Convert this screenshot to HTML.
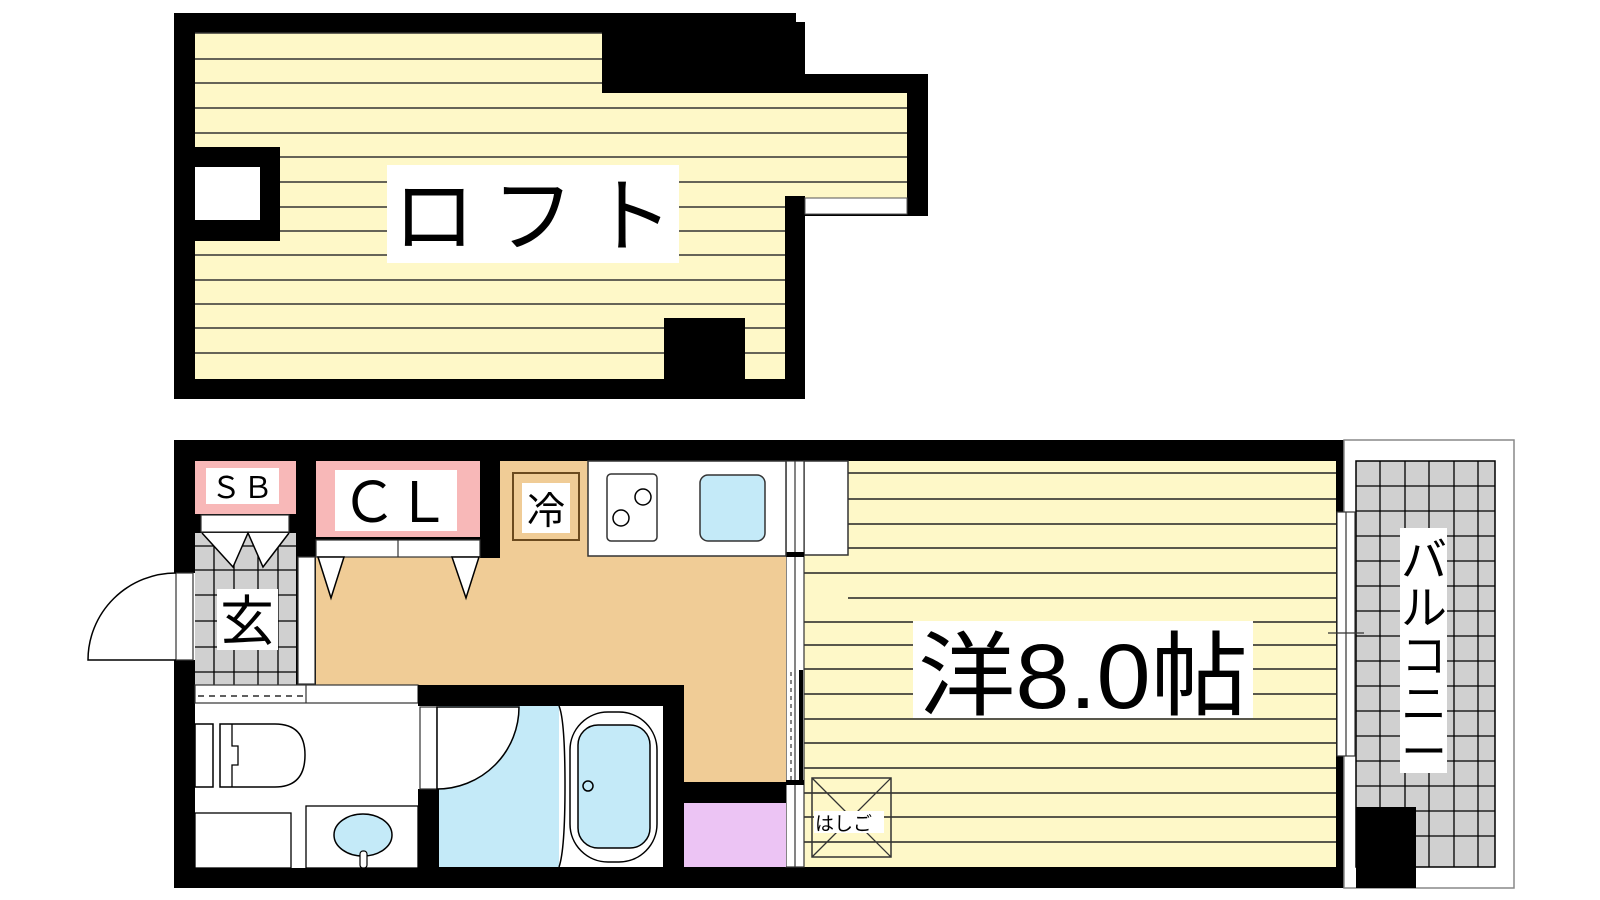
<!DOCTYPE html>
<html><head><meta charset="utf-8"><style>html,body{margin:0;padding:0;background:#fff}svg{display:block}</style></head>
<body>
<svg width="1600" height="900" viewBox="0 0 1600 900" xmlns="http://www.w3.org/2000/svg" font-family="'Liberation Sans','Noto Sans CJK JP',sans-serif">
<!-- LOFT -->
<rect x="174" y="13" width="631" height="386" fill="#000"/>
<rect x="805" y="74" width="123" height="142" fill="#000"/>
<rect x="796" y="13" width="9" height="9" fill="#fff"/>
<rect x="195" y="33" width="590" height="346" fill="#fef8c8"/>
<rect x="602" y="93" width="305" height="105" fill="#fef8c8"/>
<g stroke="#333" stroke-width="1.5">
<line x1="195" y1="33" x2="602" y2="33"/><line x1="195" y1="59" x2="602" y2="59"/><line x1="195" y1="83" x2="602" y2="83"/>
<line x1="195" y1="108" x2="907" y2="108"/><line x1="195" y1="133" x2="907" y2="133"/><line x1="195" y1="157" x2="907" y2="157"/>
<line x1="195" y1="182" x2="907" y2="182"/><line x1="195" y1="207" x2="785" y2="207"/><line x1="195" y1="231" x2="785" y2="231"/>
<line x1="195" y1="255" x2="785" y2="255"/><line x1="195" y1="280" x2="785" y2="280"/><line x1="195" y1="304" x2="785" y2="304"/>
<line x1="195" y1="328" x2="785" y2="328"/><line x1="195" y1="353" x2="785" y2="353"/>
</g>
<rect x="602" y="33" width="203" height="60" fill="#000"/>
<rect x="785" y="196" width="20" height="183" fill="#000"/>
<rect x="805" y="198" width="102" height="16" fill="#fff" stroke="#555" stroke-width="1"/>
<rect x="664" y="318" width="81" height="61" fill="#000"/>
<rect x="174" y="147" width="106" height="94" fill="#000"/>
<rect x="195" y="167" width="65" height="53" fill="#fff"/>
<rect x="387" y="165" width="292" height="98" fill="#fff"/>
<text x="393" y="245" font-size="82" textLength="280" lengthAdjust="spacing">ロフト</text>

<!-- MAIN PLAN -->
<rect x="174" y="440" width="1182" height="448" fill="#000"/>
<rect x="1356" y="807" width="60" height="81" fill="#000"/>
<!-- balcony -->
<rect x="1344" y="440" width="170" height="448" fill="#fff" stroke="#888" stroke-width="1.5"/>
<rect x="1356" y="461" width="139" height="406" fill="#d0d0d0" stroke="#000" stroke-width="1.5"/>
<g stroke="#000" stroke-width="1.3">
<line x1="1380" y1="461" x2="1380" y2="867"/><line x1="1405" y1="461" x2="1405" y2="867"/><line x1="1429" y1="461" x2="1429" y2="867"/><line x1="1454" y1="461" x2="1454" y2="867"/><line x1="1478" y1="461" x2="1478" y2="867"/>
<line x1="1356" y1="486" x2="1495" y2="486"/><line x1="1356" y1="511" x2="1495" y2="511"/><line x1="1356" y1="536" x2="1495" y2="536"/><line x1="1356" y1="561" x2="1495" y2="561"/><line x1="1356" y1="586" x2="1495" y2="586"/><line x1="1356" y1="611" x2="1495" y2="611"/><line x1="1356" y1="636" x2="1495" y2="636"/><line x1="1356" y1="661" x2="1495" y2="661"/><line x1="1356" y1="686" x2="1495" y2="686"/><line x1="1356" y1="711" x2="1495" y2="711"/><line x1="1356" y1="736" x2="1495" y2="736"/><line x1="1356" y1="761" x2="1495" y2="761"/><line x1="1356" y1="786" x2="1495" y2="786"/><line x1="1356" y1="811" x2="1495" y2="811"/><line x1="1356" y1="836" x2="1495" y2="836"/>
</g>
<rect x="1356" y="807" width="60" height="81" fill="#000"/>
<rect x="1400" y="528" width="47" height="245" fill="#fff"/>
<g font-size="46" text-anchor="middle">
<text x="1424" y="576">バ</text><text x="1424" y="624">ル</text><text x="1424" y="672">コ</text><text x="1424" y="720">ニ</text><text x="1424" y="768">ー</text>
</g>
<!-- room -->
<rect x="804" y="461" width="532" height="406" fill="#fef8c8"/>
<g stroke="#222" stroke-width="1.5">
<line x1="848" y1="473" x2="1336" y2="473"/><line x1="848" y1="499" x2="1336" y2="499"/><line x1="848" y1="524" x2="1336" y2="524"/><line x1="848" y1="548" x2="1336" y2="548"/>
<line x1="804" y1="573" x2="1336" y2="573"/><line x1="848" y1="598" x2="1336" y2="598"/><line x1="804" y1="622" x2="1336" y2="622"/><line x1="804" y1="645" x2="1336" y2="645"/><line x1="804" y1="669" x2="1336" y2="669"/><line x1="804" y1="694" x2="1336" y2="694"/><line x1="804" y1="719" x2="1336" y2="719"/><line x1="804" y1="743" x2="1336" y2="743"/><line x1="804" y1="768" x2="1336" y2="768"/><line x1="804" y1="793" x2="1336" y2="793"/><line x1="804" y1="817" x2="1336" y2="817"/><line x1="804" y1="842" x2="1336" y2="842"/>
</g>
<rect x="804" y="461" width="44" height="94" fill="#fff" stroke="#333" stroke-width="1.5"/>
<rect x="1337" y="512" width="18" height="244" fill="#fff" stroke="#333" stroke-width="1.2"/>
<line x1="1346" y1="512" x2="1346" y2="756" stroke="#333" stroke-width="1.2"/>
<line x1="1328" y1="633" x2="1364" y2="633" stroke="#333" stroke-width="1.2"/>
<rect x="913" y="621" width="340" height="97" fill="#fff"/>
<text x="918" y="708" font-size="92" textLength="330" lengthAdjust="spacingAndGlyphs">洋8.0帖</text>
<rect x="812" y="778" width="79" height="79" fill="none" stroke="#333" stroke-width="1.5"/>
<line x1="812" y1="778" x2="891" y2="857" stroke="#333" stroke-width="1.3"/><line x1="891" y1="778" x2="812" y2="857" stroke="#333" stroke-width="1.3"/>
<rect x="814" y="811" width="70" height="22" fill="#fff"/>
<text x="815" y="830" font-size="19">はしご</text>
<!-- partition room/kitchen -->
<rect x="786" y="461" width="18" height="406" fill="#fff" stroke="#333" stroke-width="1.2"/>
<line x1="795" y1="461" x2="795" y2="867" stroke="#333" stroke-width="1.2"/>
<rect x="786" y="552" width="18" height="5" fill="#000"/>
<rect x="786" y="780" width="18" height="5" fill="#000"/>
<line x1="791" y1="672" x2="791" y2="780" stroke="#333" stroke-width="1.2" stroke-dasharray="4,4"/>
<rect x="799" y="670" width="4" height="112" fill="#000"/>
<!-- kitchen floor -->
<rect x="500" y="461" width="286" height="321" fill="#f0cc96"/>
<rect x="316" y="557" width="184" height="128" fill="#f0cc96"/>
<rect x="684" y="782" width="102" height="21" fill="#000"/>
<rect x="684" y="803" width="102" height="64" fill="#ecc4f4"/>
<!-- counter -->
<rect x="588" y="461" width="198" height="95" fill="#fff" stroke="#333" stroke-width="1.5"/>
<rect x="607" y="474" width="50" height="67" rx="4" fill="#fff" stroke="#333" stroke-width="1.5"/>
<circle cx="643" cy="497" r="8" fill="none" stroke="#000" stroke-width="1.5"/><circle cx="621" cy="518" r="8" fill="none" stroke="#000" stroke-width="1.5"/>
<rect x="700" y="475" width="65" height="66" rx="8" fill="#c4eaf8" stroke="#333" stroke-width="1.5"/>
<!-- fridge -->
<rect x="513" y="473" width="66" height="67" fill="#f0cc96" stroke="#6b4a1e" stroke-width="2"/>
<rect x="522" y="483" width="48" height="50" fill="#fff"/>
<text x="546" y="524" font-size="38" text-anchor="middle">冷</text>
<!-- SB -->
<rect x="195" y="461" width="101" height="53" fill="#f8b8b8"/>
<rect x="206" y="468" width="73" height="36" fill="#fff"/>
<text x="242" y="498" font-size="30" text-anchor="middle" textLength="62" lengthAdjust="spacing">ＳＢ</text>
<rect x="296" y="461" width="20" height="96" fill="#000"/>
<!-- CL -->
<rect x="316" y="461" width="164" height="76" fill="#f8b8b8"/>
<rect x="335" y="470" width="122" height="61" fill="#fff"/>
<text x="396" y="522" font-size="56" text-anchor="middle" textLength="110" lengthAdjust="spacing">ＣＬ</text>
<rect x="480" y="461" width="20" height="97" fill="#000"/>
<rect x="316" y="540" width="164" height="17" fill="#fff" stroke="#333" stroke-width="1.2"/>
<line x1="398" y1="540" x2="398" y2="557" stroke="#333" stroke-width="1.2"/>
<path d="M318 557 L331 598 L344 557 Z M452 557 L466 598 L479 557 Z" fill="#fff" stroke="#000" stroke-width="1.5"/>
<!-- entrance -->
<rect x="201" y="515" width="88" height="17" fill="#fff" stroke="#333" stroke-width="1.2"/>
<rect x="195" y="533" width="101" height="152" fill="#d0d0d0"/>
<g stroke="#000" stroke-width="1.3">
<line x1="214" y1="533" x2="214" y2="685"/><line x1="234" y1="533" x2="234" y2="685"/><line x1="258" y1="533" x2="258" y2="685"/><line x1="278" y1="533" x2="278" y2="685"/>
<line x1="195" y1="546" x2="296" y2="546"/><line x1="195" y1="570" x2="296" y2="570"/><line x1="195" y1="595" x2="296" y2="595"/><line x1="195" y1="621" x2="296" y2="621"/><line x1="195" y1="647" x2="296" y2="647"/><line x1="195" y1="672" x2="296" y2="672"/>
</g>
<path d="M202 533 L233 567 L248 533 L263 567 L289 533" fill="#fff" stroke="#000" stroke-width="1.5"/>
<rect x="298" y="557" width="17" height="127" fill="#fff" stroke="#333" stroke-width="1.2"/>
<rect x="217" y="589" width="61" height="61" fill="#fff"/>
<text x="247" y="640" font-size="54" text-anchor="middle">玄</text>
<rect x="174" y="573" width="21" height="87" fill="#fff"/>
<rect x="176" y="573" width="17" height="87" fill="#fff" stroke="#333" stroke-width="1.2"/>
<path d="M176 573 A88 87 0 0 0 88 660 L176 660" fill="none" stroke="#000" stroke-width="1.5"/>
<!-- toilet -->
<rect x="195" y="685" width="223" height="183" fill="#fff"/>
<rect x="195" y="685" width="223" height="18" fill="#fff" stroke="#333" stroke-width="1.2"/>
<line x1="306" y1="685" x2="306" y2="703" stroke="#333" stroke-width="1.2"/>
<line x1="198" y1="696" x2="304" y2="696" stroke="#000" stroke-width="1.3" stroke-dasharray="6,5"/>
<rect x="195" y="724" width="18" height="63" fill="#fff" stroke="#000" stroke-width="1.5"/>
<path d="M220 724 L275 724 Q305 724 305 755 Q305 787 275 787 L220 787 Z" fill="#fff" stroke="#000" stroke-width="1.5"/>
<path d="M232 724 L232 746 L238 746 L238 765 L232 765 L232 787" fill="none" stroke="#000" stroke-width="1.3"/>
<rect x="195" y="813" width="96" height="55" fill="#fff" stroke="#000" stroke-width="1.3"/>
<rect x="306" y="806" width="112" height="62" fill="#fff" stroke="#000" stroke-width="1.3"/>
<ellipse cx="363" cy="835" rx="29" ry="21" fill="#c4eaf8" stroke="#000" stroke-width="1.5"/>
<rect x="360" y="851" width="7" height="17" rx="3" fill="#fff" stroke="#000" stroke-width="1.2"/>
<!-- bath -->
<rect x="418" y="685" width="266" height="21" fill="#000"/>
<rect x="418" y="685" width="21" height="183" fill="#000"/>
<rect x="663" y="685" width="21" height="183" fill="#000"/>
<rect x="439" y="706" width="120" height="161" fill="#c4eaf8"/>
<rect x="559" y="706" width="104" height="161" fill="#fff"/>
<path d="M559 706 Q565 720 565 786 Q565 850 559 867" fill="none" stroke="#000" stroke-width="1.5"/>
<rect x="570" y="712" width="87" height="150" rx="38" fill="#fff" stroke="#000" stroke-width="1.5"/>
<rect x="578" y="725" width="72" height="123" rx="20" fill="#c4eaf8" stroke="#000" stroke-width="1.5"/>
<circle cx="588" cy="786" r="5" fill="none" stroke="#000" stroke-width="1.5"/>
<rect x="418" y="706" width="21" height="83" fill="#fff"/>
<rect x="420" y="707" width="17" height="82" fill="#fff" stroke="#333" stroke-width="1.2"/>
<path d="M437 707 L519 707 A82 82 0 0 1 437 789 Z" fill="#fff" stroke="#000" stroke-width="1.5"/>
</svg>
</body></html>
